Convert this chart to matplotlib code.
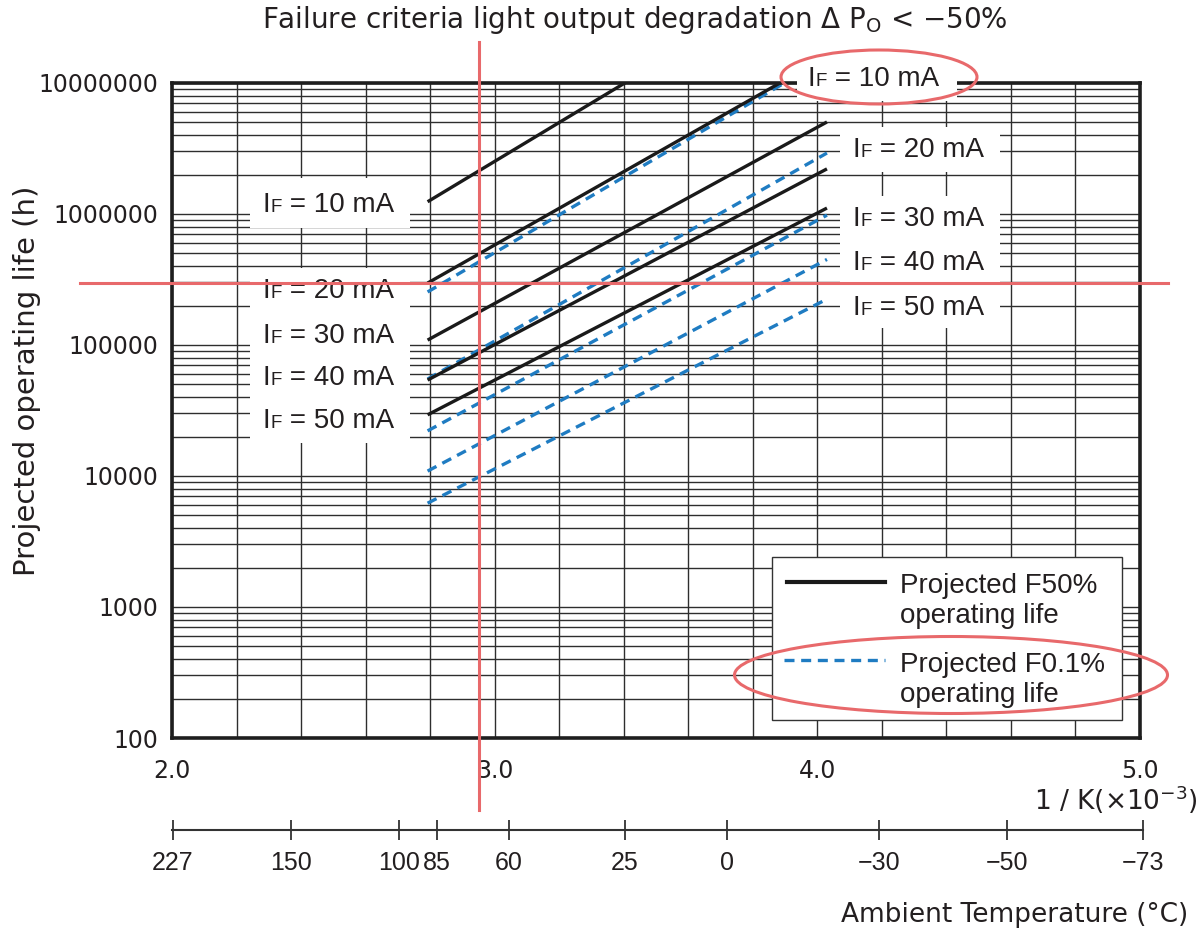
import matplotlib
matplotlib.use('Agg')
import matplotlib.pyplot as plt
import matplotlib.transforms as mtransforms
from matplotlib.patches import Rectangle, Ellipse
from matplotlib.lines import Line2D
from matplotlib.ticker import MultipleLocator, LogLocator, NullFormatter

# ---------------- data ----------------
currents_mA = [10, 20, 30, 40, 50]
temp_range_C = [85, -25]                      # every line spans 85 C .. -25 C
f50_start_h = [1.24e6, 2.97e5, 1.09e5, 5.4e4, 2.93e4]   # projected F50% life at 85 C
f50_end_h = [8.5e7, 1.6e7, 5.04e6, 2.21e6, 1.11e6]      # projected F50% life at -25 C
f01_start_h = [2.54e5, 5.5e4, 2.21e4, 1.09e4, 6.2e3]    # projected F0.1% life at 85 C
f01_end_h = [1.55e7, 2.92e6, 9.8e5, 4.5e5, 2.24e5]      # projected F0.1% life at -25 C

x_ticks = [2.0, 3.0, 4.0, 5.0]
x_tick_labels = ['2.0', '3.0', '4.0', '5.0']
y_ticks = [1e2, 1e3, 1e4, 1e5, 1e6, 1e7]
y_tick_labels = ['100', '1000', '10000', '100000', '1000000', '10000000']
temp_tick_labels = ['227', '150', '100', '85', '60', '25', '0', '\u221230', '\u221250', '\u221273']
temp_tick_pos = [2.003, 2.369, 2.703, 2.821, 3.044, 3.404, 3.720, 4.191, 4.588, 5.009]

x_line = [1000.0 / (t + 273.15) for t in temp_range_C]

TXT = '#231f20'
GRID = '#2e2e2e'
BLUE = '#1f7cc2'
BLACK = '#1a1a1a'
RED = '#e8696b'
AX_FONT = 'DejaVu Sans'
LBL_FONT = 'Liberation Sans'

W, H = 1202, 933
fig = plt.figure(figsize=(W / 100, H / 100), dpi=100)
fig.patch.set_facecolor('white')

L, R, T, B = 172, 1140, 83, 738
ax = fig.add_axes([L / W, 1 - B / H, (R - L) / W, (B - T) / H])
ax.set_xlim(2.0, 5.0)
ax.set_yscale('log')
ax.set_ylim(100, 1e7)

ax.set_xticks(x_ticks, labels=x_tick_labels)
ax.xaxis.set_minor_locator(MultipleLocator(0.2))
ax.set_yticks(y_ticks, labels=y_tick_labels)
ax.yaxis.set_minor_locator(LogLocator(base=10, subs=range(2, 10)))
ax.yaxis.set_minor_formatter(NullFormatter())
ax.set_axisbelow(True)
ax.grid(which='both', color=GRID, lw=1.0)
ax.tick_params(which='both', length=0)
ax.tick_params(axis='x', pad=15, labelsize=17, labelcolor=TXT)
ax.tick_params(axis='y', pad=10, labelsize=17, labelcolor=TXT)
for lab in ax.get_xticklabels() + ax.get_yticklabels():
    lab.set_family(AX_FONT)
for sp in ax.spines.values():
    sp.set_linewidth(2.6)
    sp.set_color('#1e1e1e')

# data lines
for s, e in zip(f01_start_h, f01_end_h):
    ax.plot(x_line, [s, e], color=BLUE, lw=2.4, dashes=(3, 2), zorder=2)
for s, e in zip(f50_start_h, f50_end_h):
    ax.plot(x_line, [s, e], color=BLACK, lw=2.4, solid_capstyle='butt', zorder=2.2)

# white label boxes (axes fraction)
boxes = [
    (0.0806, 0.7786, 0.2459, 0.8550, 1),
    (0.0806, 0.4504, 0.2459, 0.7176, 1),
    (0.6457, 0.9725, 0.8110, 1.0504, 3),
    (0.6901, 0.8641, 0.8554, 0.9328, 1),
    (0.6901, 0.6260, 0.8554, 0.8275, 1),
]
for x0, y0, x1, y1, z in boxes:
    ax.add_patch(Rectangle((x0, y0), x1 - x0, y1 - y0, transform=ax.transAxes,
                           facecolor='white', edgecolor='none', zorder=z, clip_on=False))

renderer = fig.canvas.get_renderer()


def if_label(xf, yf, current):
    kw = dict(va='baseline', ha='left', color=TXT, family=LBL_FONT, zorder=6, clip_on=False)
    t1 = ax.text(xf, yf, 'I', transform=ax.transAxes, fontsize=20, **kw)
    w1 = t1.get_window_extent(renderer).width * 72 / fig.dpi
    tr2 = mtransforms.offset_copy(ax.transAxes, fig=fig, x=w1 + 0.8, y=0, units='points')
    t2 = ax.text(xf, yf, 'F', transform=tr2, fontsize=13.5, **kw)
    w2 = t2.get_window_extent(renderer).width * 72 / fig.dpi
    tr3 = mtransforms.offset_copy(ax.transAxes, fig=fig, x=w1 + 0.8 + w2, y=0, units='points')
    ax.text(xf, yf, ' = %d mA' % current, transform=tr3, fontsize=20, **kw)


left_pos = [(0.0930, 0.8031), (0.0930, 0.6718), (0.0930, 0.6031), (0.0930, 0.5389), (0.0930, 0.4733)]
right_pos = [(0.6560, 0.9954), (0.7025, 0.8870), (0.7025, 0.7817), (0.7025, 0.7145), (0.7025, 0.6458)]
for c, (xf, yf) in zip(currents_mA, left_pos):
    if_label(xf, yf, c)
for c, (xf, yf) in zip(currents_mA, right_pos):
    if_label(xf, yf, c)

# legend (manual)
ax.add_patch(Rectangle((0.6198, 0.0275), 0.3616, 0.2488, transform=ax.transAxes,
                       facecolor='white', edgecolor='#333333', lw=1.0, zorder=3))
ax.add_line(Line2D([0.6353, 0.7366], [0.2382, 0.2382], transform=ax.transAxes,
                   color=BLACK, lw=3.0, zorder=4))
ax.add_line(Line2D([0.6322, 0.7366], [0.1191, 0.1191], transform=ax.transAxes,
                   color=BLUE, lw=2.4, dashes=(3, 2), zorder=4))
leg_kw = dict(transform=ax.transAxes, fontsize=20, family=LBL_FONT, color=TXT,
              va='baseline', ha='left', zorder=5)
ax.text(0.7521, 0.2214, 'Projected F50%', **leg_kw)
ax.text(0.7521, 0.1756, 'operating life', **leg_kw)
ax.text(0.7521, 0.1008, 'Projected F0.1%', **leg_kw)
ax.text(0.7521, 0.0550, 'operating life', **leg_kw)

# temperature axis
TL, TR, TY = 172, 1143, 830
axt = fig.add_axes([TL / W, 1 - TY / H, (TR - TL) / W, 1e-4])
axt.set_xlim(2.0, 2.0 + (TR - TL) / ((R - L) / 3.0))
axt.set_ylim(0, 1)
axt.patch.set_visible(False)
for k in ('top', 'left', 'right'):
    axt.spines[k].set_visible(False)
axt.spines['bottom'].set_linewidth(1.5)
axt.spines['bottom'].set_color('#333333')
axt.set_yticks([])
axt.set_xticks(temp_tick_pos, labels=temp_tick_labels)
axt.tick_params(axis='x', direction='inout', length=14, width=1.3, color='#333333',
                pad=8, labelsize=18, labelcolor=TXT)
for lab in axt.get_xticklabels():
    lab.set_family(LBL_FONT)

# text
fig.text(635 / W, 1 - 28 / H, 'Failure criteria light output degradation \u0394 P$_{\\mathrm{O}}$ < \u221250%',
         ha='center', va='baseline', fontsize=20, family=AX_FONT, color=TXT)
fig.text(27 / W, 1 - 381 / H, 'Projected operating life (h)', rotation=90,
         ha='center', va='center', fontsize=21, family=AX_FONT, color=TXT)
fig.text(1198 / W, 1 - 800 / H, '1 / K(\u00d710$^{-3}$)', ha='right', va='center',
         fontsize=19, family=AX_FONT, color=TXT)
fig.text(1188 / W, 1 - 915 / H, 'Ambient Temperature (\u00b0C)', ha='right', va='center',
         fontsize=19, family=AX_FONT, color=TXT)

# red annotation overlay
fig.add_artist(Line2D([479 / W, 479 / W], [1 - 42 / H, 1 - 810 / H], transform=fig.transFigure,
                      color=RED, lw=2.2, zorder=20))
fig.add_artist(Line2D([80 / W, 1168 / W], [1 - 283 / H, 1 - 283 / H], transform=fig.transFigure,
                      color=RED, lw=2.2, zorder=20))
fig.add_artist(Ellipse((879 / W, 1 - 77 / H), 196 / W, 54 / H, transform=fig.transFigure,
                       fill=False, edgecolor=RED, lw=2.2, zorder=20))
fig.add_artist(Ellipse((951 / W, 1 - 675 / H), 433 / W, 77 / H, transform=fig.transFigure,
                       fill=False, edgecolor=RED, lw=2.2, zorder=20))

fig.savefig('out.png', dpi=100, facecolor='white')
